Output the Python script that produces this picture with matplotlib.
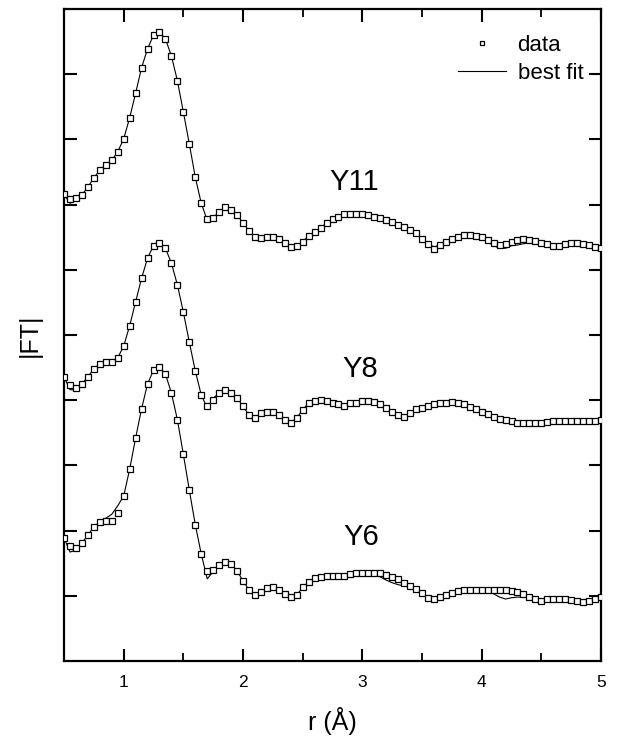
import numpy as np
import matplotlib
matplotlib.use("Agg")
import matplotlib.pyplot as plt
from matplotlib.lines import Line2D

plt.rcParams['font.family'] = ['Liberation Sans', 'DejaVu Sans']

# r grid (Angstrom), 0.05 step from 0.5 to 5.0
r = np.round(np.arange(0.5, 5.0001, 0.05), 2)

# |FT| (offset curves, arbitrary units)
y11_data = [7.16, 7.09, 7.10, 7.15, 7.27, 7.41, 7.53, 7.61, 7.68, 7.81,
            8.01, 8.33, 8.71, 9.10, 9.39, 9.60, 9.65, 9.54, 9.28, 8.90,
            8.42, 7.93, 7.42, 7.02, 6.78, 6.79, 6.89, 6.96, 6.92, 6.84,
            6.72, 6.60, 6.50, 6.49, 6.50, 6.50, 6.47, 6.41, 6.35, 6.37,
            6.43, 6.52, 6.58, 6.64, 6.72, 6.78, 6.81, 6.86, 6.86, 6.86,
            6.86, 6.84, 6.81, 6.79, 6.76, 6.73, 6.69, 6.66, 6.61, 6.56,
            6.47, 6.40, 6.32, 6.38, 6.43, 6.47, 6.50, 6.53, 6.53, 6.52,
            6.50, 6.46, 6.41, 6.38, 6.40, 6.43, 6.46, 6.47, 6.46, 6.44,
            6.41, 6.40, 6.37, 6.37, 6.40, 6.41, 6.41, 6.40, 6.38, 6.35,
            6.33]
y11_fit = [7.16, 7.02, 7.07, 7.15, 7.27, 7.41, 7.53, 7.61, 7.68, 7.81,
           8.01, 8.33, 8.71, 9.10, 9.39, 9.60, 9.65, 9.54, 9.28, 8.90,
           8.42, 7.93, 7.42, 7.02, 6.76, 6.80, 6.89, 6.95, 6.92, 6.84,
           6.72, 6.60, 6.50, 6.49, 6.50, 6.50, 6.47, 6.41, 6.36, 6.37,
           6.43, 6.52, 6.58, 6.64, 6.72, 6.78, 6.81, 6.85, 6.86, 6.86,
           6.86, 6.84, 6.81, 6.79, 6.76, 6.73, 6.69, 6.66, 6.61, 6.56,
           6.47, 6.40, 6.35, 6.38, 6.43, 6.47, 6.50, 6.52, 6.53, 6.51,
           6.47, 6.43, 6.37, 6.33, 6.33, 6.37, 6.38, 6.40, 6.41, 6.41,
           6.40, 6.40, 6.37, 6.37, 6.40, 6.41, 6.41, 6.40, 6.38, 6.35,
           6.33]

y8_data = [4.36, 4.23, 4.19, 4.25, 4.36, 4.48, 4.56, 4.59, 4.59, 4.65,
           4.83, 5.14, 5.51, 5.87, 6.18, 6.37, 6.41, 6.33, 6.10, 5.77,
           5.35, 4.89, 4.45, 4.08, 3.91, 4.00, 4.11, 4.16, 4.11, 4.03,
           3.91, 3.77, 3.73, 3.80, 3.82, 3.82, 3.77, 3.70, 3.65, 3.73,
           3.85, 3.96, 3.99, 4.00, 3.99, 3.96, 3.94, 3.91, 3.96, 3.96,
           3.99, 3.99, 3.97, 3.94, 3.88, 3.82, 3.77, 3.74, 3.80, 3.87,
           3.88, 3.91, 3.94, 3.96, 3.96, 3.97, 3.96, 3.94, 3.90, 3.87,
           3.82, 3.79, 3.74, 3.71, 3.70, 3.68, 3.65, 3.65, 3.65, 3.65,
           3.65, 3.67, 3.68, 3.68, 3.68, 3.68, 3.68, 3.68, 3.68, 3.68,
           3.70]
y8_fit = [4.36, 4.16, 4.16, 4.25, 4.36, 4.48, 4.56, 4.59, 4.59, 4.65,
          4.83, 5.14, 5.51, 5.87, 6.18, 6.37, 6.41, 6.33, 6.10, 5.77,
          5.35, 4.89, 4.45, 4.08, 3.88, 4.03, 4.11, 4.16, 4.11, 4.03,
          3.91, 3.77, 3.73, 3.80, 3.82, 3.82, 3.77, 3.70, 3.65, 3.73,
          3.85, 3.96, 3.99, 4.00, 3.99, 3.96, 3.94, 3.91, 3.96, 3.96,
          3.99, 3.99, 3.97, 3.94, 3.88, 3.82, 3.77, 3.74, 3.80, 3.87,
          3.88, 3.91, 3.94, 3.96, 3.96, 3.97, 3.96, 3.94, 3.90, 3.87,
          3.82, 3.79, 3.74, 3.71, 3.70, 3.68, 3.65, 3.65, 3.65, 3.65,
          3.65, 3.67, 3.68, 3.68, 3.68, 3.68, 3.68, 3.68, 3.68, 3.68,
          3.70]

y6_data = [1.89, 1.76, 1.73, 1.81, 1.93, 2.06, 2.13, 2.15, 2.15, 2.27,
           2.53, 2.94, 3.42, 3.87, 4.25, 4.46, 4.51, 4.40, 4.11, 3.70,
           3.17, 2.62, 2.09, 1.64, 1.38, 1.40, 1.47, 1.52, 1.49, 1.38,
           1.23, 1.09, 1.01, 1.06, 1.12, 1.13, 1.09, 1.03, 0.98, 1.01,
           1.13, 1.21, 1.27, 1.29, 1.30, 1.30, 1.30, 1.30, 1.33, 1.35,
           1.35, 1.35, 1.35, 1.35, 1.32, 1.29, 1.26, 1.20, 1.15, 1.10,
           1.04, 0.97, 0.95, 0.98, 1.01, 1.04, 1.07, 1.09, 1.09, 1.09,
           1.09, 1.09, 1.09, 1.09, 1.09, 1.07, 1.06, 1.03, 0.98, 0.95,
           0.92, 0.95, 0.95, 0.95, 0.95, 0.94, 0.92, 0.90, 0.92, 0.95,
           0.98]
y6_fit = [1.89, 1.67, 1.70, 1.81, 1.93, 2.06, 2.13, 2.19, 2.25, 2.38,
          2.53, 2.94, 3.42, 3.87, 4.25, 4.46, 4.51, 4.40, 4.11, 3.70,
          3.17, 2.62, 2.09, 1.64, 1.26, 1.37, 1.47, 1.52, 1.49, 1.38,
          1.23, 1.09, 1.01, 1.06, 1.12, 1.13, 1.09, 1.03, 0.98, 1.01,
          1.13, 1.21, 1.27, 1.29, 1.30, 1.31, 1.32, 1.33, 1.35, 1.38,
          1.38, 1.37, 1.33, 1.29, 1.24, 1.20, 1.17, 1.15, 1.13, 1.10,
          1.04, 0.97, 0.95, 0.98, 1.01, 1.04, 1.07, 1.09, 1.09, 1.09,
          1.09, 1.07, 1.03, 0.98, 0.95, 0.97, 0.98, 0.98, 0.97, 0.95,
          0.92, 0.95, 0.95, 0.95, 0.95, 0.94, 0.92, 0.90, 0.92, 0.95,
          0.98]

names = ["Y11", "Y8", "Y6"]
name_pos = [(2.93, 7.35), (2.98, 4.48), (2.99, 1.90)]

fig = plt.figure(figsize=(6.18, 7.44), dpi=100)
ax = fig.add_axes([0.1036, 0.1116, 0.8689, 0.8763])

for d, f in [(y11_data, y11_fit), (y8_data, y8_fit), (y6_data, y6_fit)]:
    ax.plot(r, f, color="black", lw=0.8, zorder=2)
    ax.plot(r, d, ls="none", marker="s", ms=4.8, mfc="white", mec="black",
            mew=0.9, zorder=3)

for name, (xx, yy) in zip(names, name_pos):
    ax.text(xx, yy, name, fontsize=21, ha="center", va="center")

ax.set_xlim(0.5, 5.0)
ax.set_ylim(0, 10)
ax.set_xticks([1, 2, 3, 4, 5])
ax.set_xticks([1.5, 2.5, 3.5, 4.5], minor=True)
ax.set_yticks(range(1, 10))
ax.set_yticklabels([])
ax.tick_params(which="major", direction="in", length=9, width=1.5,
               top=True, right=True, labelsize=12.5, pad=10)
ax.tick_params(which="minor", direction="in", length=6, width=1.3,
               top=True, right=True)
for s in ax.spines.values():
    s.set_linewidth(1.6)

ax.set_xlabel("r (Å)", fontsize=18, labelpad=12)
ax.set_ylabel("|FT|", fontsize=18, labelpad=6)

handles = [Line2D([], [], ls="none", marker="s", ms=3.5, mfc="white",
                  mec="black", mew=0.9),
           Line2D([], [], color="black", lw=0.8)]
ax.legend(handles, ["data", "best fit"], loc="upper right", frameon=False,
          fontsize=16, handlelength=2.2, handletextpad=0.5, labelspacing=0.3,
          borderpad=0, borderaxespad=0, bbox_to_anchor=(0.967, 0.96))

fig.savefig("out.png", dpi=100)
